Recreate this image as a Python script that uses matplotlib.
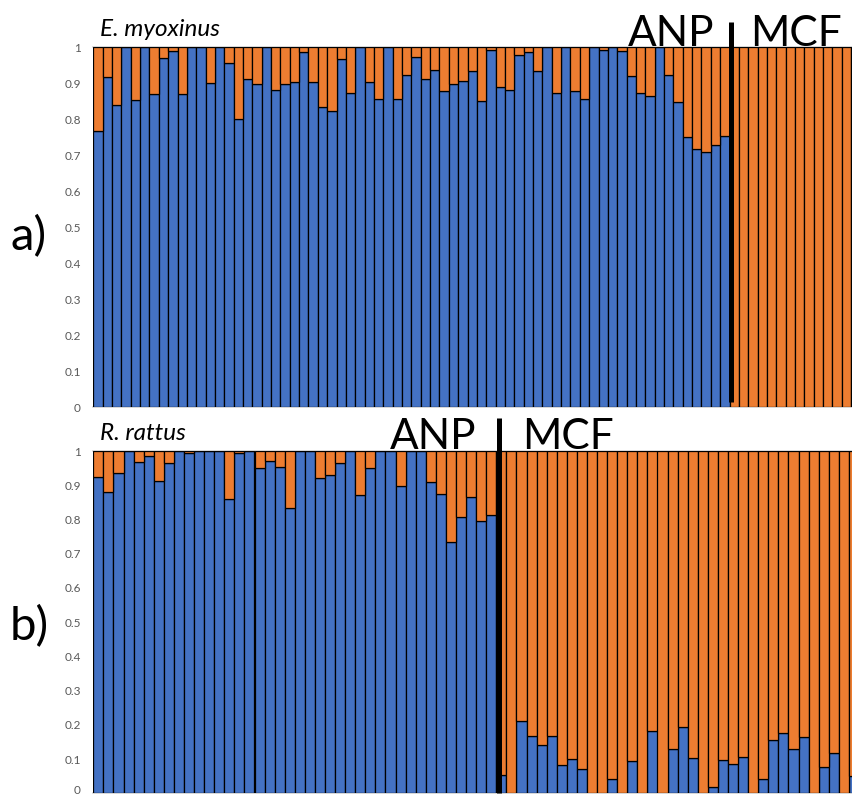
import matplotlib
matplotlib.use("Agg")
import matplotlib.pyplot as plt
import matplotlib.transforms as mtransforms
import numpy as np

# ---- data (membership proportion of blue cluster; orange = 1 - blue) ----
myox_anp_blue = [0.767, 0.917, 0.839, 1.0, 0.852, 1.0, 0.869, 0.969, 0.99, 0.869,
                 1.0, 1.0, 0.899, 1.0, 0.955, 0.799, 0.911, 0.897, 1.0, 0.880,
                 0.897, 0.902, 0.987, 0.904, 0.832, 0.821, 0.967, 0.871, 1.0, 0.903,
                 0.855, 1.0, 0.855, 0.922, 0.971, 0.911, 0.937, 0.878, 0.897, 0.906,
                 0.934, 0.850, 0.992, 0.889, 0.880, 0.978, 0.985, 0.934, 1.0, 0.872,
                 1.0, 0.878, 0.855, 1.0, 0.993, 1.0, 0.989, 0.919, 0.872, 0.863,
                 1.0, 0.922, 0.846, 0.751, 0.716, 0.707, 0.727, 0.753]
myox_mcf_blue = [0.0] * 14

rattus_anp_blue = [0.923, 0.879, 0.935, 1.0, 0.968, 0.985, 0.913, 0.964, 1.0, 0.993,
                   1.0, 1.0, 1.0, 0.860, 0.993, 1.0, 0.949, 0.971, 0.954, 0.833,
                   1.0, 1.0, 0.922, 0.930, 0.966, 1.0, 0.871, 0.950, 1.0, 1.0,
                   0.899, 1.0, 1.0, 0.908, 0.873, 0.735, 0.808, 0.865, 0.796, 0.813]
rattus_mcf_blue = [0.053, 0.0, 0.212, 0.167, 0.140, 0.167, 0.082, 0.099, 0.071, 0.0,
                   0.0, 0.041, 0.0, 0.095, 0.0, 0.181, 0.0, 0.129, 0.195, 0.102,
                   0.0, 0.018, 0.097, 0.086, 0.105, 0.0, 0.041, 0.156, 0.175, 0.129,
                   0.165, 0.0, 0.076, 0.119, 0.0, 0.05]

yticks = [0, 0.1, 0.2, 0.3, 0.4, 0.5, 0.6, 0.7, 0.8, 0.9, 1]
ytick_labels = ["0", "0.1", "0.2", "0.3", "0.4", "0.5", "0.6", "0.7", "0.8", "0.9", "1"]
species = ["E. myoxinus", "R. rattus"]
groups = ["ANP", "MCF"]
panel_labels = ["a)", "b)"]

BLUE = "#4472C4"
ORANGE = "#ED7D31"
FONT = "Lato"

W, H = 852, 798
fig = plt.figure(figsize=(W / 100, H / 100), dpi=100)


def px(x, y):
    return x / W, 1 - y / H


def draw_panel(ax, blue, n_visible):
    blue = np.array(blue)
    orange = 1 - blue
    x = np.arange(len(blue))
    ax.bar(x, blue, width=1.0, color=BLUE, edgecolor="black", linewidth=0.9, zorder=2)
    ax.bar(x, orange, bottom=blue, width=1.0, color=ORANGE, edgecolor="black",
           linewidth=0.9, zorder=2)
    ax.set_xlim(-0.5, -0.5 + n_visible)
    ax.set_ylim(0, 1)
    ax.set_xticks([])
    ax.set_yticks(yticks)
    ax.set_yticklabels(ytick_labels, fontsize=8.5, color="#595959", family=FONT)
    ax.tick_params(axis="y", length=0, pad=9)
    for s in ax.spines.values():
        s.set_visible(False)
    ax.axhline(0, color="#D0D0D0", lw=1.2, zorder=1, clip_on=False)
    ax.axhline(1, color="#D0D0D0", lw=1.2, zorder=1, clip_on=False)


# panel a
ax_a = fig.add_axes([93.3 / W, 1 - 407 / H, (W - 93.3) / W, 360 / H])
blue_a = myox_anp_blue + myox_mcf_blue
draw_panel(ax_a, blue_a, (W - 93.3) / 9.356)
xa = len(myox_anp_blue) - 0.5 + 0.14
ax_a.plot([xa, xa], [0.014, 1.07], color="black", lw=3.6, clip_on=False, zorder=5,
          solid_capstyle="butt")

# panel b
ax_b = fig.add_axes([93.3 / W, 1 - 793.3 / H, (W - 93.3) / W, 342.3 / H])
blue_b = rattus_anp_blue + rattus_mcf_blue
draw_panel(ax_b, blue_b, (W - 93.3) / 10.075)
xb = len(rattus_anp_blue) - 0.5 + 0.22
ax_b.plot([xb, xb], [0.0, 1.096], color="black", lw=3.6, clip_on=False, zorder=5,
          solid_capstyle="butt")

# keep the bottom "0" label of panel b inside the image
zero_lbl = ax_b.get_yticklabels()[0]
zero_lbl.set_transform(zero_lbl.get_transform() +
                       mtransforms.ScaledTranslation(0, 3 / 72, fig.dpi_scale_trans))

# texts
fig.text(*px(100, 36), species[0], fontsize=17.5, style="italic", family=FONT,
         ha="left", va="baseline")
fig.text(*px(100, 440), species[1], fontsize=17.5, style="italic", family=FONT,
         ha="left", va="baseline")
fig.text(*px(628, 46), groups[0], fontsize=30.5, family=FONT, ha="left", va="baseline")
fig.text(*px(750, 46), groups[1], fontsize=30.5, family=FONT, ha="left", va="baseline")
fig.text(*px(390, 449), groups[0], fontsize=30.5, family=FONT, ha="left", va="baseline")
fig.text(*px(522, 449), groups[1], fontsize=30.5, family=FONT, ha="left", va="baseline")
fig.text(*px(10, 250), panel_labels[0], fontsize=34, family=FONT, ha="left", va="baseline")
fig.text(*px(10, 640), panel_labels[1], fontsize=34, family=FONT, ha="left", va="baseline")

fig.savefig("out.png", dpi=100)
